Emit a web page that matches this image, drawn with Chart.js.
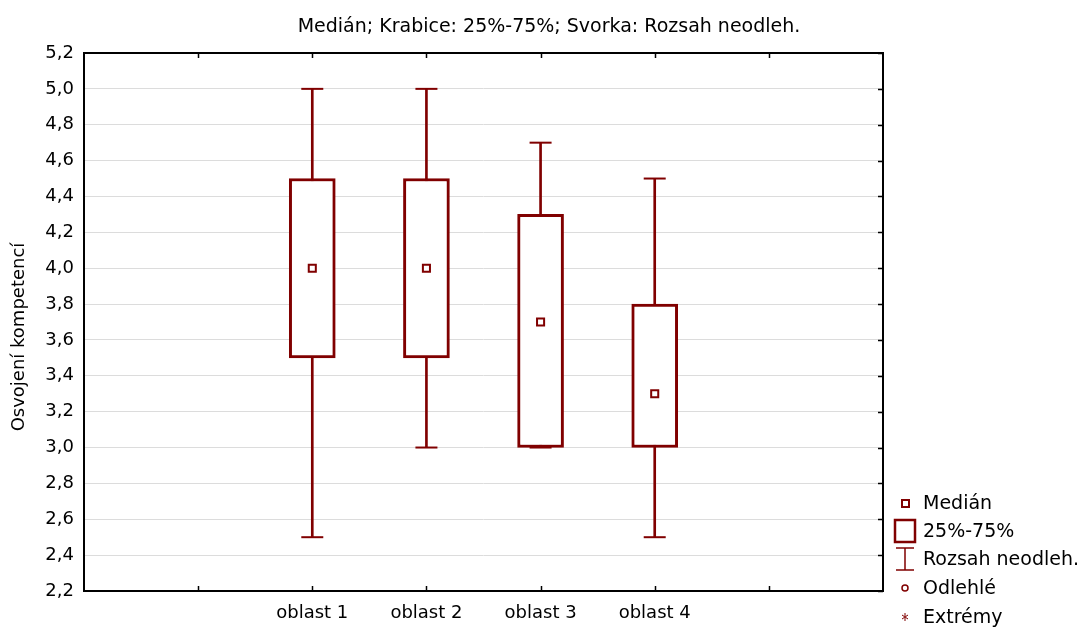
<!DOCTYPE html>
<html>
<head>
<meta charset="utf-8">
<script src="https://cdn.jsdelivr.net/npm/chart.js@4.4.1/dist/chart.umd.min.js"></script>
<style>
html,body{margin:0;padding:0;background:#fff;}
#wrap{width:1086px;height:628px;position:relative;}
</style>
</head>
<body>
<div id="wrap"><canvas id="c" width="1086" height="628"></canvas></div>
<script>
const categories = ['oblast 1', 'oblast 2', 'oblast 3', 'oblast 4'];
const whiskerMin = [2.5, 3.0, 3.0, 2.5];
const whiskerMax = [5.0, 5.0, 4.7, 4.5];
const q1 = [3.5, 3.5, 3.0, 3.0];
const q3 = [4.5, 4.5, 4.3, 3.8];
const median = [4.0, 4.0, 3.7, 3.3];
const yTicks = [2.2, 2.4, 2.6, 2.8, 3.0, 3.2, 3.4, 3.6, 3.8, 4.0, 4.2, 4.4, 4.6, 4.8, 5.0, 5.2];
const legendLabels = ['Medián', '25%-75%', 'Rozsah neodleh.', 'Odlehlé', 'Extrémy'];
const titleText = 'Medián; Krabice: 25%-75%; Svorka: Rozsah neodleh.';
const yTitle = 'Osvojení kompetencí';

const RED = '#800000';
const FONT = 'DejaVu Sans';
const pad = (arr) => [null, null, ...arr, null, null];
const labels = ['', '', ...categories, '', ''];

const decor = {
  id: 'decor',
  afterDraw(chart) {
    const ctx = chart.ctx;
    const a = chart.chartArea;
    const xs = chart.scales.x, ys = chart.scales.y;
    ctx.save();
    // inward ticks
    ctx.strokeStyle = '#000';
    ctx.lineWidth = 1.5;
    ctx.beginPath();
    for (let i = 1; i < labels.length - 1; i++) {
      const px = Math.round(xs.getPixelForTick(i)) + 0.5;
      ctx.moveTo(px, a.bottom); ctx.lineTo(px, a.bottom - 5);
      ctx.moveTo(px, a.top); ctx.lineTo(px, a.top + 5);
    }
    yTicks.forEach(v => {
      const py = Math.round(ys.getPixelForValue(v)) + 0.5;
      ctx.moveTo(a.right, py); ctx.lineTo(a.right - 5, py);
    });
    ctx.stroke();
    // frame
    ctx.lineWidth = 2;
    ctx.strokeRect(a.left, a.top, a.right - a.left, a.bottom - a.top);
    // title
    ctx.fillStyle = '#000';
    ctx.font = '19px "' + FONT + '"';
    ctx.textAlign = 'center';
    ctx.textBaseline = 'middle';
    ctx.fillText(titleText, 549, 27);
    // y title
    ctx.save();
    ctx.translate(19, 337);
    ctx.rotate(-Math.PI / 2);
    ctx.font = '18px "' + FONT + '"';
    ctx.fillText(yTitle, 0, 0);
    ctx.restore();
    // legend
    const lx = 905, tx = 923;
    const ly = [503, 531, 559, 588, 617];
    ctx.strokeStyle = RED;
    ctx.fillStyle = '#fff';
    // median square
    ctx.lineWidth = 2;
    ctx.strokeRect(lx - 3, ly[0] - 3, 7, 7);
    // box
    ctx.lineWidth = 2.5;
    ctx.strokeRect(lx - 10, ly[1] - 11, 20, 22);
    // whisker
    ctx.lineWidth = 1.5;
    ctx.beginPath();
    ctx.moveTo(lx, ly[2] - 11); ctx.lineTo(lx, ly[2] + 11);
    ctx.moveTo(lx - 9, ly[2] - 11); ctx.lineTo(lx + 9, ly[2] - 11);
    ctx.moveTo(lx - 9, ly[2] + 11); ctx.lineTo(lx + 9, ly[2] + 11);
    ctx.stroke();
    // outlier circle
    ctx.lineWidth = 1.5;
    ctx.beginPath();
    ctx.arc(lx, ly[3], 3, 0, Math.PI * 2);
    ctx.stroke();
    // extreme star
    ctx.lineWidth = 1;
    ctx.beginPath();
    ctx.moveTo(lx - 3, ly[4] - 2); ctx.lineTo(lx + 3, ly[4] + 2);
    ctx.moveTo(lx + 3, ly[4] - 2); ctx.lineTo(lx - 3, ly[4] + 2);
    ctx.moveTo(lx, ly[4] - 4); ctx.lineTo(lx, ly[4] - 1);
    ctx.moveTo(lx, ly[4] + 1); ctx.lineTo(lx, ly[4] + 4);
    ctx.stroke();
    ctx.fillStyle = '#000';
    ctx.font = '19px "' + FONT + '"';
    ctx.textAlign = 'left';
    legendLabels.forEach((t, i) => ctx.fillText(t, tx, ly[i] + 1));
    ctx.restore();
  }
};

new Chart(document.getElementById('c'), {
  data: {
    labels: labels,
    datasets: [
      {
        type: 'bar', label: 'whisker', data: pad(whiskerMin.map((v, i) => [v, whiskerMax[i]])),
        backgroundColor: RED, borderWidth: 0, barThickness: 2, grouped: false, order: 3
      },
      {
        type: 'bar', label: 'box', data: pad(q1.map((v, i) => [v, q3[i]])),
        backgroundColor: '#fff', borderColor: RED, borderWidth: 3, borderSkipped: false,
        barThickness: 46, grouped: false, order: 2
      },
      {
        type: 'line', label: 'capMin', data: pad(whiskerMin), showLine: false,
        pointStyle: 'line', pointRadius: 11, borderColor: RED, borderWidth: 2, order: 1
      },
      {
        type: 'line', label: 'capMax', data: pad(whiskerMax), showLine: false,
        pointStyle: 'line', pointRadius: 11, borderColor: RED, borderWidth: 2, order: 1
      },
      {
        type: 'line', label: 'median', data: pad(median), showLine: false,
        pointStyle: 'rect', pointRadius: 5, borderColor: RED, backgroundColor: '#fff',
        borderWidth: 2, order: 0
      }
    ]
  },
  options: {
    responsive: false,
    animation: false,
    events: [],
    layout: { padding: { top: 53, right: 203, left: 0, bottom: 0 } },
    plugins: { legend: { display: false }, tooltip: { enabled: false }, title: { display: false } },
    scales: {
      x: {
        type: 'category',
        offset: false,
        grid: { display: false, drawTicks: false },
        border: { display: false },
        ticks: {
          autoSkip: false, maxRotation: 0, minRotation: 0, padding: 12,
          color: '#000', font: { family: FONT, size: 18 }
        },
        afterFit(s) { s.height = 37; }
      },
      y: {
        min: 2.2, max: 5.2,
        grid: { color: '#dcdcdc', lineWidth: 1, drawTicks: false },
        border: { display: false },
        afterBuildTicks(s) { s.ticks = yTicks.map(v => ({ value: v })); },
        ticks: {
          padding: 10, color: '#000', font: { family: FONT, size: 18 },
          callback: (v) => Number(v).toFixed(1).replace('.', ',')
        },
        afterFit(s) { s.width = 84; }
      }
    }
  },
  plugins: [decor]
});
</script>
</body>
</html>
